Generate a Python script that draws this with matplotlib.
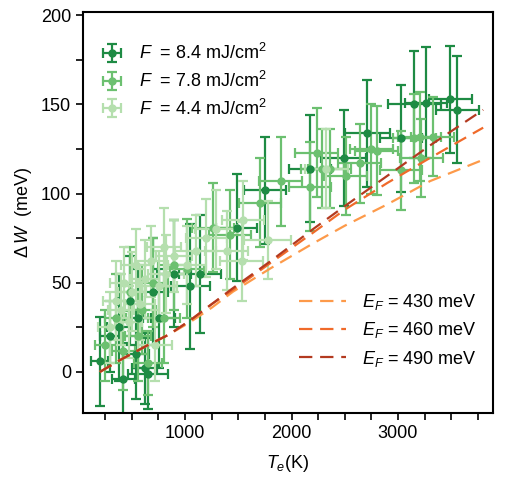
import matplotlib.pyplot as plt
from matplotlib.ticker import MultipleLocator

plt.rcParams['font.family'] = ['Liberation Sans', 'DejaVu Sans']
plt.rcParams['mathtext.fontset'] = 'custom'
plt.rcParams['mathtext.it'] = 'Liberation Sans:italic'
plt.rcParams['mathtext.rm'] = 'Liberation Sans'

# -----------------------------
# DATA
# -----------------------------
# F = 8.4 mJ/cm2
te_84 = [200, 300, 380, 420, 480, 540, 560, 620, 654, 700, 760, 900, 1050, 1140,
         1484, 1750, 2172, 2490, 2712, 3030, 3155, 3262, 3493, 3558]
dw_84 = [6, 20, 25, -4, 40, 10, 30, 2, -1, 45, 30, 55, 48, 55,
         81, 102, 114, 120, 134, 131, 150, 151, 153, 147]
te_84_err = [80, 100, 110, 110, 120, 120, 120, 120, 190, 140, 150, 160, 180, 200,
             195, 200, 200, 210, 210, 200, 250, 200, 200, 200]
dw_84_err = [25, 20, 30, 20, 25, 25, 28, 20, 20, 30, 28, 30, 35, 33,
             30, 30, 30, 27, 30, 30, 30, 31, 30, 30]

# F = 7.8 mJ/cm2
te_78 = [250, 350, 420, 480, 560, 600, 650, 700, 800, 900, 1016, 1263, 1422, 1703,
         1897, 2172, 2237, 2290, 2359, 2509, 2640, 2750, 2800, 3030, 3155, 3203, 3218, 3325]
dw_78 = [15, 30, 12, 45, 20, 35, 5, 50, 30, 60, 58, 81, 77, 95,
         107, 104, 123, 114, 114, 110, 117, 125, 124, 113, 131, 132, 120, 132]
te_78_err = [100, 100, 110, 120, 120, 130, 130, 140, 150, 150, 160, 200, 200, 200,
             200, 200, 200, 200, 200, 200, 200, 200, 200, 200, 200, 200, 200, 200]
dw_78_err = [20, 25, 22, 25, 25, 25, 18, 25, 25, 25, 28, 25, 25, 25,
             25, 25, 25, 22, 22, 22, 22, 25, 25, 22, 25, 25, 22, 22]

# F = 4.4 mJ/cm2
te_44 = [300, 350, 400, 430, 470, 500, 540, 580, 620, 680, 720, 760, 800, 820, 900,
         1016, 1100, 1200, 1290, 1391, 1531, 1545, 1778, 2328]
dw_44 = [25, 40, 35, 50, 28, 45, 60, 38, 52, 62, 15, 48, 70, 55, 65,
         60, 68, 75, 80, 68, 62, 85, 74, 114]
te_44_err = [120, 120, 120, 130, 130, 130, 140, 140, 140, 150, 160, 160, 160, 170, 170,
             180, 190, 190, 200, 200, 200, 200, 220, 200]
dw_44_err = [20, 22, 20, 20, 20, 22, 20, 20, 22, 20, 20, 20, 22, 22, 20,
             22, 20, 22, 22, 22, 22, 22, 22, 22]

# model curves
te_line = [200, 400, 650, 850, 1050, 1250, 1450, 1800, 2200, 2500, 2900, 3300, 3800]
dw_430 = [0, 7, 15, 21, 28, 36, 45, 58, 72, 82, 94, 107, 119]
dw_460 = [0, 7, 15, 21, 29, 38, 46, 61, 78, 91, 106, 120, 137]
dw_490 = [0, 7, 15, 21, 29, 38, 47, 62, 80, 93, 110, 127, 147]

green_dark = '#1e8b44'
green_mid = '#6cc070'
green_light = '#b5dfae'
c430 = '#fd9a4a'
c460 = '#f06a2a'
c490 = '#b33a20'

# -----------------------------
# PLOT
# -----------------------------
fig = plt.figure(figsize=(5.08, 4.91), dpi=100)
ax = fig.add_axes([0.163, 0.159, 0.807, 0.817])

eb_kw = dict(fmt='o', ms=5, elinewidth=1.6, capsize=3.5, capthick=1.6)
h1 = ax.errorbar(te_84, dw_84, xerr=te_84_err, yerr=dw_84_err, color=green_dark, **eb_kw)
h2 = ax.errorbar(te_78, dw_78, xerr=te_78_err, yerr=dw_78_err, color=green_mid, **eb_kw)
h3 = ax.errorbar(te_44, dw_44, xerr=te_44_err, yerr=dw_44_err, color=green_light, **eb_kw)

dash = (6, 3.5)
l1, = ax.plot(te_line, dw_430, color=c430, lw=1.6, dashes=dash, zorder=5)
l2, = ax.plot(te_line, dw_460, color=c460, lw=1.6, dashes=dash, zorder=5)
l3, = ax.plot(te_line, dw_490, color=c490, lw=1.6, dashes=dash, zorder=5)

ax.set_xlim(40, 3890)
ax.set_ylim(-23, 202)
ax.xaxis.set_major_locator(MultipleLocator(1000))
ax.xaxis.set_minor_locator(MultipleLocator(250))
ax.yaxis.set_major_locator(MultipleLocator(50))
ax.yaxis.set_minor_locator(MultipleLocator(25))
ax.tick_params(which='both', direction='out', length=5, width=1.2,
               top=False, right=False, labelsize=13)

for s in ax.spines.values():
    s.set_linewidth(1.5)

ax.set_xlabel(r'$T_e$(K)', fontsize=13, labelpad=8)
ax.set_ylabel(r'$\Delta\,W$  (meV)', fontsize=13, labelpad=5)

leg1 = ax.legend([h1, h2, h3],
                 [r'$F$  = 8.4 mJ/cm$^2$', r'$F$  = 7.8 mJ/cm$^2$', r'$F$  = 4.4 mJ/cm$^2$'],
                 loc='upper left', bbox_to_anchor=(0.0, 0.962), frameon=False,
                 fontsize=13, handlelength=1.4, handletextpad=0.8, labelspacing=0.42)
ax.add_artist(leg1)

ax.legend([l1, l2, l3],
          [r'$E_F$ = 430 meV', r'$E_F$ = 460 meV', r'$E_F$ = 490 meV'],
          loc='lower right', bbox_to_anchor=(1.0, 0.07), frameon=False,
          fontsize=13, handlelength=2.6, handletextpad=0.9, labelspacing=0.45)

plt.savefig('out.png', dpi=100)
